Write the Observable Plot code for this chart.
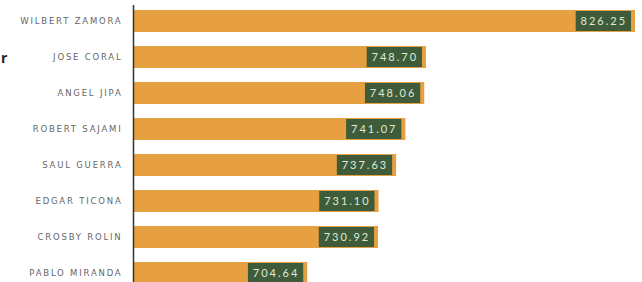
<!DOCTYPE html>
<html>
<head>
<meta charset="utf-8">
<script src="https://cdn.jsdelivr.net/npm/d3@7"></script>
<script src="https://cdn.jsdelivr.net/npm/@observablehq/plot@0.6"></script>
<style>
  html, body { margin: 0; padding: 0; background: #fff; overflow: hidden; }
  #wrap { position: relative; width: 642px; height: 282px; }
  #stray { position: absolute; left: 1px; top: 48px; font: bold 14px "Open Sans", sans-serif; color: #222; }
  svg text { font-family: Lato, "Open Sans", sans-serif; }
  .yax text { font-family: "DejaVu Sans", sans-serif; letter-spacing: 1.8px; }
  .vals text { letter-spacing: 2px; }
</style>
</head>
<body>
<div id="wrap"><span id="stray">r</span></div>
<script>
const names = ["WILBERT ZAMORA", "JOSE CORAL", "ANGEL JIPA", "ROBERT SAJAMI", "SAUL GUERRA", "EDGAR TICONA", "CROSBY ROLIN", "PABLO MIRANDA"];
const values = [826.25, 748.70, 748.06, 741.07, 737.63, 731.10, 730.92, 704.64];
const labels = ["826.25", "748.70", "748.06", "741.07", "737.63", "731.10", "730.92", "704.64"];

const data = names.map((n, i) => ({name: n, value: values[i], label: labels[i]}));
const base = 640;
const boxUnits = 22;

const chart = Plot.plot({
  width: 642,
  height: 282,
  marginLeft: 133,
  marginRight: 5,
  marginTop: 5,
  marginBottom: 0,
  x: {domain: [base, 827], axis: null},
  y: {domain: names, range: [6, 288], paddingInner: 0.38, paddingOuter: 0.1, label: null},
  marks: [
    Plot.barX(data, {y: "name", x1: base, x2: "value", fill: "#e6a042"}),
    Plot.barX(data, {y: "name", x1: d => d.value - boxUnits, x2: "value", insetRight: 4, insetTop: 1, insetBottom: 1, fill: "#3f5c3a"}),
    Plot.text(data, {y: "name", x: d => d.value - boxUnits / 2, dx: -2, text: "label", fill: "#dfe9d6", fontSize: 11, className: "vals"}),
    Plot.axisY({tickSize: 0, tickPadding: 11, fontSize: 8.5, color: "#666", className: "yax"}),
    Plot.ruleX([base], {stroke: "#333", strokeWidth: 1.5})
  ]
});
document.getElementById("wrap").appendChild(chart);
</script>
</body>
</html>
